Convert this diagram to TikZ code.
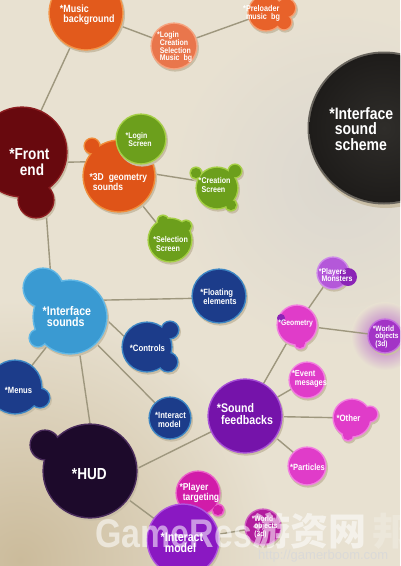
\documentclass[tikz,border=0pt]{standalone}
\usepackage{fontspec}
\setmainfont{Liberation Sans}[FakeStretch=0.85]
\newfontfamily\wmfont{Liberation Sans}
\newfontfamily\cjk{Noto Sans CJK SC}
\newcommand\fsz[2]{\fontsize{#1}{#2}\selectfont\bfseries}
\newcommand\stb{\llap{*}}
\definecolor{bgc}{HTML}{E8E1D1}
\definecolor{bgdark}{HTML}{CBBB9B}
\definecolor{bggray}{HTML}{DBD7CF}
\definecolor{shadowc}{HTML}{C9BEA6}
\definecolor{linkc}{HTML}{9E977E}
\definecolor{orA}{HTML}{E25A1C}\definecolor{orArim}{HTML}{F39448}
\definecolor{orB}{HTML}{E9764C}\definecolor{orBrim}{HTML}{F6A37F}
\definecolor{orC}{HTML}{E8622A}\definecolor{orCrim}{HTML}{F59E70}
\definecolor{orD}{HTML}{DF5418}\definecolor{orDrim}{HTML}{F08C3A}
\definecolor{maroon}{HTML}{68090E}\definecolor{maroonrim}{HTML}{8C1D20}
\definecolor{grn}{HTML}{6C9F1C}\definecolor{grnrim}{HTML}{A5CF45}
\definecolor{ltblue}{HTML}{3A9AD2}\definecolor{ltbluerim}{HTML}{62B8E6}
\definecolor{dkblue}{HTML}{1C3C8A}\definecolor{dkbluerim}{HTML}{3D86C4}
\definecolor{hudc}{HTML}{1D0A2B}\definecolor{hudrim}{HTML}{4A2C5C}
\definecolor{purp}{HTML}{7513AA}\definecolor{purprim}{HTML}{A64FD6}
\definecolor{mag}{HTML}{E03CC9}\definecolor{magrim}{HTML}{F27EE0}
\definecolor{lilac}{HTML}{B458D9}\definecolor{lilacrim}{HTML}{CF8AEA}
\definecolor{violet}{HTML}{8B24B6}
\definecolor{wpurp}{HTML}{A334C6}\definecolor{wpurprim}{HTML}{C56EE0}
\definecolor{pink}{HTML}{D11CA9}\definecolor{pinkrim}{HTML}{EB62C9}
\definecolor{impc}{HTML}{8A18C2}\definecolor{imprim}{HTML}{B056DE}
\definecolor{wbc}{HTML}{B21C9E}\definecolor{wbrim}{HTML}{D060C0}
\definecolor{issrim}{HTML}{67635C}
\definecolor{issin}{HTML}{2F2D2A}\definecolor{issout}{HTML}{1E1C1A}
\newcommand\blob[3]{%
  \foreach \bx/\by/\br in {#3} {\fill[shadowc] (\bx+1.2,\by+1.8) circle[radius=\br+0.8];}
  \foreach \bx/\by/\br in {#3} {\fill[#2] (\bx,\by) circle[radius=\br+0.6];}
  \foreach \bx/\by/\br in {#3} {\fill[#1] (\bx,\by) circle[radius=\br-0.9];}
}
\begin{document}
\begin{tikzpicture}[x=1pt,y=-1pt,
  hub/.style={circle, inner sep=0pt, minimum size=#1},
  link/.style={draw=linkc, line width=1.4pt},
  txt/.style={text=white, inner sep=0pt, align=left},
  wm/.style={anchor=base west, inner sep=0pt, text=white, opacity=0.55}]
\useasboundingbox (0,0) rectangle (400,566);
\clip (0,0) rectangle (400,566);
% background
\fill[bgc] (0,0) rectangle (400,566);
\shade[inner color=bgdark, outer color=bgc] (20,560) circle[radius=260];
\shade[inner color=bggray, outer color=bgc] (340,180) circle[radius=170];
\shade[inner color=wpurp!75!bgc, outer color=bgc] (385,336) circle[radius=34];
% named hubs
\node[hub=74pt] (musicbg) at (86,13) {};
\node[hub=46pt] (lcsm) at (174,46) {};
\node[hub=36pt] (preload) at (266,13) {};
\node[hub=152pt] (iss) at (384,128) {};
\node[hub=90pt] (front) at (22,152) {};
\node[hub=72pt] (geo) at (119,176) {};
\node[hub=50pt] (login) at (141,139) {};
\node[hub=42pt] (creation) at (217,188) {};
\node[hub=44pt] (selection) at (170,240) {};
\node[hub=74pt] (isounds) at (70,317) {};
\node[hub=54pt] (floating) at (219,296) {};
\node[hub=50pt] (controls) at (147,347) {};
\node[hub=54pt] (menus) at (15,387) {};
\node[hub=42pt] (imblue) at (170,418) {};
\node[hub=94pt] (hud) at (90,471) {};
\node[hub=74pt] (sfb) at (245,416) {};
\node[hub=40pt] (geometry) at (297,325) {};
\node[hub=32pt] (players) at (333,273) {};
\node[hub=34pt] (worldr) at (385,336) {};
\node[hub=36pt] (event) at (307,380) {};
\node[hub=38pt] (other) at (352,418) {};
\node[hub=38pt] (particles) at (307,466) {};
\node[hub=44pt] (target) at (198,493) {};
\node[hub=72pt] (impurple) at (183,540) {};
\node[hub=36pt] (worldb) at (263,527) {};
% connectors
\draw[link] (musicbg) -- (lcsm);
\draw[link] (lcsm) -- (preload);
\draw[link] (musicbg) -- (front);
\draw[link] (front.-13) -- (geo.157);
\draw[link] (geo.3) -- (creation.160);
\draw[link] (geo) -- (selection);
\draw[link] (front.-60) -- (isounds.120);
\draw[link] (isounds.27) -- (floating.185);
\draw[link] (isounds.-5) -- (controls.155);
\draw[link] (isounds) -- (menus);
\draw[link] (isounds) -- (imblue);
\draw[link] (isounds.-75) -- (hud.north);
\draw[link] (hud.3) -- (sfb.205);
\draw[link] (hud) -- (impurple);
\draw[link] (sfb) -- (geometry);
\draw[link] (geometry) -- (players);
\draw[link] (geometry) -- (worldr);
\draw[link] (sfb) -- (event);
\draw[link] (sfb) -- (other);
\draw[link] (sfb.-35) -- (particles.135);
\draw[link] (impurple) -- (worldb);
% bubbles
\blob{orA}{orArim}{86/13/37}
\blob{orB}{orBrim}{174/46/23}
\blob{orC}{orCrim}{266/13/18, 286/8/10, 284/22/8}
\fill[shadowc] (386,131) circle[radius=77];
\fill[issrim] (384,128) circle[radius=76.5];
\shade[inner color=issin, outer color=issout] (384,128) circle[radius=74.5];
\blob{maroon}{maroonrim}{22/152/45, 36/200/18}
\blob{orD}{orDrim}{119/176/36, 92/146/8}
\blob{grn}{grnrim}{141/139/25}
\blob{grn}{grnrim}{217/188/21, 196/173/6, 235/171/7, 231/205/6}
\blob{grn}{grnrim}{170/240/22, 163/221/6, 186/226/6}
\blob{ltblue}{ltbluerim}{70/317/37, 43/288/20, 38/338/9}
\blob{dkblue}{dkbluerim}{219/296/27}
\blob{dkblue}{dkbluerim}{147/347/25, 170/330/9, 168/362/10}
\blob{dkblue}{dkbluerim}{15/387/27, 40/398/10}
\blob{dkblue}{dkbluerim}{170/418/21}
\blob{hudc}{hudrim}{90/471/47, 45/445/15}
\blob{purp}{purprim}{245/416/37}
\blob{mag}{magrim}{297/325/20, 300/343/6}
\fill[violet] (281,318) circle[radius=4];
\blob{lilac}{lilacrim}{333/273/16}
\fill[violet] (348,277) circle[radius=9];
\blob{wpurp}{wpurprim}{385/336/17}
\blob{mag}{magrim}{307/380/18}
\blob{mag}{magrim}{352/418/19, 370/414/8, 348/435/6}
\blob{mag}{magrim}{307/466/19}
\blob{pink}{pinkrim}{198/493/22, 218/510/6}
\blob{impc}{imprim}{183/540/36}
\blob{wbc}{wbrim}{263/527/18}
% texts
\node[txt, font=\fsz{10.5}{10}] (t-musicbg) at (89,15) {\stb Music\\background};
\node[txt, font=\fsz{8.2}{7.8}] (t-lcsm) at (176,47) {\stb Login\\Creation\\Selection\\Music\enspace bg};
\node[txt, font=\fsz{8.5}{8.3}] (t-preload) at (263,13) {\stb Preloader\\music\enspace bg};
\node[txt, font=\fsz{16.5}{15.5}] (t-iss) at (364,129) {\stb Interface\\sound\\scheme};
\node[txt, font=\fsz{16}{16}, align=center] (t-front) at (32,162) {\stb Front\\end};
\node[txt, font=\fsz{10}{9.5}] (t-geo) at (120,182) {\stb 3D\enspace geometry\\sounds};
\node[txt, font=\fsz{8.2}{8}] (t-login) at (140,140) {\stb Login\\Screen};
\node[txt, font=\fsz{8.4}{8.2}] (t-creation) at (216,185) {\stb Creation\\Screen};
\node[txt, font=\fsz{8.4}{8.2}] (t-selection) at (172,244) {\stb Selection\\Screen};
\node[txt, font=\fsz{12.5}{11}] (t-isounds) at (69,317) {\stb Interface\\sounds};
\node[txt, font=\fsz{9}{8.5}] (t-floating) at (220,297) {\stb Floating\\elements};
\node[txt, font=\fsz{9.2}{9}] (t-controls) at (149,348) {\stb Controls};
\node[txt, font=\fsz{9}{9}] (t-menus) at (20,390) {\stb Menus};
\node[txt, font=\fsz{9}{8.5}] (t-imblue) at (172,420) {\stb Interact\\model};
\node[txt, font=\fsz{16}{16}] (t-hud) at (92,474) {\stb HUD};
\node[txt, font=\fsz{12.5}{11.5}] (t-sfb) at (247,414) {\stb Sound\\feedbacks};
\node[txt, font=\fsz{8}{8}] (t-geometry) at (297,324) {\stb Geometry};
\node[txt, font=\fsz{8.2}{7.8}] (t-players) at (337,275) {\stb Players\\Monsters};
\node[txt, font=\fsz{7.8}{7.2}] (t-worldr) at (387,337) {\stb World\\objects\\(3d)};
\node[txt, font=\fsz{8.8}{8.5}] (t-event) at (311,379) {\stb Event\\mesages};
\node[txt, font=\fsz{9.2}{9}] (t-other) at (350,418) {\stb Other};
\node[txt, font=\fsz{9}{9}] (t-particles) at (309,467) {\stb Particles};
\node[txt, font=\fsz{10}{9.5}] (t-target) at (201,493) {\stb Player\\targeting};
\node[txt, font=\fsz{12.5}{11.5}] (t-impurple) at (184,543) {\stb Interact\\model};
\node[txt, font=\fsz{7.8}{7.2}] (t-worldb) at (266,527) {\stb World\\objects\\(3d)};
% watermark
\node[wm, font=\fsz{40}{40}] (wm1) at (95,547) {GameRes};
\node[wm, font=\cjk\bfseries\fontsize{38}{38}\selectfont] (wm2) at (252,545) {游资网};
\node[wm, opacity=0.2, font=\cjk\bfseries\fontsize{38}{38}\selectfont] (wm3) at (372,545) {邦};
\node[wm, text=white!70!gray, opacity=0.9, font=\wmfont\fontsize{13}{13}\selectfont] (wm4) at (258,559) {http://gamerboom.com};
\end{tikzpicture}
\end{document}
